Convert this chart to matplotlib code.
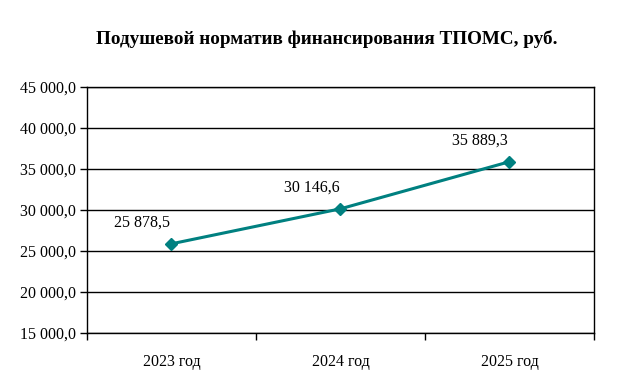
import matplotlib.pyplot as plt
from matplotlib.ticker import FuncFormatter, FixedLocator

plt.rcParams['font.family'] = ['Liberation Serif', 'DejaVu Serif']

years = ['2023 год', '2024 год', '2025 год']
values = [25878.5, 30146.6, 35889.3]
y_min, y_max, y_step = 15000, 45000, 5000


def ru_num(v, pos=None):
    s = f"{v:,.1f}"
    return s.replace(',', ' ').replace('.', ',')


fig = plt.figure(figsize=(6.24, 3.75), dpi=100)
ax = fig.add_axes([0.1394, 0.112, 0.8125, 0.656])

x = list(range(len(years)))
ax.plot(x, values, color='#008080', linewidth=2.2, marker='D',
        markersize=6.5, zorder=3)
for xi, v in zip(x, values):
    ax.annotate(ru_num(v), (xi, v), xytext=(-21, 15), textcoords='offset points',
                ha='center', va='center', fontsize=11.5)

ax.set_xlim(-0.5, len(years) - 0.5)
ax.set_ylim(y_min, y_max)
ax.set_yticks(range(y_min, y_max + 1, y_step))
ax.yaxis.set_major_formatter(FuncFormatter(ru_num))
ax.set_xticks(x)
ax.set_xticklabels(years)
ax.xaxis.set_minor_locator(FixedLocator([i - 0.5 for i in range(len(years) + 1)]))
ax.tick_params(axis='x', which='major', length=0, pad=15, labelsize=11.5)
ax.tick_params(axis='x', which='minor', length=5, width=1, direction='out')
ax.tick_params(axis='y', length=5, width=1, direction='out', labelsize=11.5, pad=3)
ax.grid(axis='y', color='black', linewidth=1)
ax.set_axisbelow(True)
for sp in ax.spines.values():
    sp.set_color('black')
    sp.set_linewidth(1)

fig.text(0.523, 0.897, 'Подушевой норматив финансирования ТПОМС, руб.',
         ha='center', va='center', fontsize=13.8, fontweight='bold')

fig.savefig('out.png', dpi=100)
